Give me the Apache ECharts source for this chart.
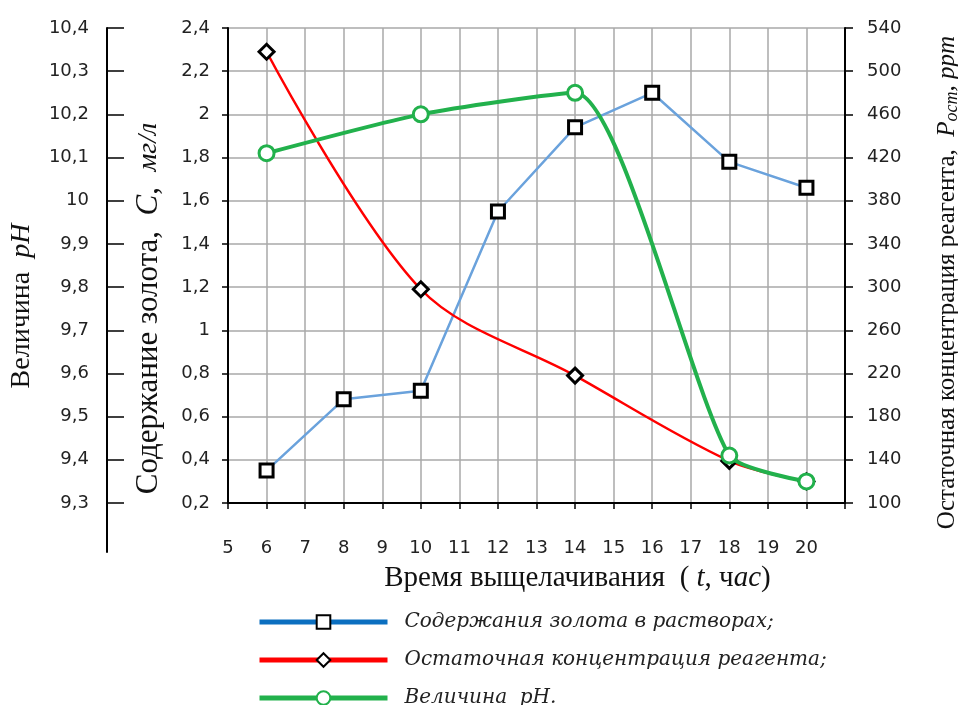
<!DOCTYPE html>
<html>
<head>
<meta charset="utf-8">
<script src="https://cdn.jsdelivr.net/npm/echarts@6/dist/echarts.min.js"></script>
<style>html,body{margin:0;padding:0;background:#fff}#c{width:958px;height:705px}</style>
</head>
<body>
<div id="c"></div>
<script>
// ---- data ----
const timeGold = [6, 8, 10, 12, 14, 16, 18, 20];
const gold = [0.35, 0.68, 0.72, 1.55, 1.94, 2.10, 1.78, 1.66];
const timeReagent = [6, 10, 14, 18, 20];
const reagent = [518, 298, 218, 139, 120];
const timePH = [6, 10, 14, 18, 20];
const ph = [10.11, 10.20, 10.25, 9.41, 9.35];
const xTicks = [5, 6, 7, 8, 9, 10, 11, 12, 13, 14, 15, 16, 17, 18, 19, 20];
const goldTicks = [0.2, 0.4, 0.6, 0.8, 1, 1.2, 1.4, 1.6, 1.8, 2, 2.2, 2.4];
const reagentTicks = [100, 140, 180, 220, 260, 300, 340, 380, 420, 460, 500, 540];
const phTicks = [9.3, 9.4, 9.5, 9.6, 9.7, 9.8, 9.9, 10, 10.1, 10.2, 10.3, 10.4];
const seriesNames = ['Содержания золота в растворах;', 'Остаточная концентрация реагента;', 'Величина  pH.'];

// ---- layout ----
const G = {left: 228, top: 28, right: 845, bottom: 503};
const phBottom = 552;
const h1 = G.bottom - G.top, h2 = phBottom - G.top;
const phMax = phTicks[phTicks.length - 1], phMinMain = phTicks[0];
const phMin = phMax - (phMax - phMinMain) * h2 / h1;

const comma = v => String(Math.round(v * 100) / 100).replace('.', ',');
const lbl = {fontFamily: 'DejaVu Sans', fontSize: 18, color: '#222'};
const nameFont = 'Liberation Serif';
const gridColor = '#a8a8a8';
const rich = size => ({
  n: {fontFamily: nameFont, fontSize: size, color: '#111'},
  i: {fontFamily: nameFont, fontSize: size, fontStyle: 'italic', color: '#111'},
  s: {fontFamily: nameFont, fontSize: size - 3, fontStyle: 'italic', color: '#111'},
  sub: {fontFamily: nameFont, fontSize: size - 7, fontStyle: 'italic', color: '#111', padding: [10, 0, 0, 0]}
});

const chart = echarts.init(document.getElementById('c'), null, {renderer: 'canvas'});
chart.setOption({
  backgroundColor: '#fff',
  animation: false,
  grid: [
    {left: G.left, top: G.top, width: G.right - G.left, height: h1, containLabel: false, outerBoundsMode: 'none'},
    {left: G.left, top: G.top, width: G.right - G.left, height: h2, containLabel: false, outerBoundsMode: 'none'}
  ],
  xAxis: [
    {
      type: 'value', gridIndex: 0, min: xTicks[0], max: 21, interval: 1,
      axisLine: {lineStyle: {color: '#000', width: 2}},
      axisTick: {show: true, length: 6, lineStyle: {color: '#000', width: 1.5}},
      axisLabel: Object.assign({margin: 36, formatter: v => (xTicks.indexOf(v) >= 0 ? String(v) : '')}, lbl),
      splitLine: {show: true, lineStyle: {color: gridColor, width: 1.5}},
      name: '{n|Время выщелачивания  ( }{i|t}{n|, ч}{i|ас}{n|)}',
      nameLocation: 'middle', nameGap: 61,
      nameTextStyle: {padding: [0, 0, 0, 82], rich: rich(29)}
    },
    {type: 'value', gridIndex: 1, min: xTicks[0], max: 21, show: false}
  ],
  yAxis: [
    {
      type: 'value', gridIndex: 0, position: 'left', min: goldTicks[0], max: goldTicks[goldTicks.length - 1], interval: 0.2,
      axisLine: {show: true, lineStyle: {color: '#000', width: 2}},
      axisTick: {show: true, length: 6, lineStyle: {color: '#000', width: 1.5}},
      axisLabel: Object.assign({margin: 18, formatter: comma}, lbl),
      splitLine: {show: true, lineStyle: {color: gridColor, width: 1.5}},
      name: '{n|Содержание золота,  }{i|C}{n|,  }{s|мг/л}',
      nameLocation: 'middle', nameGap: 64,
      nameTextStyle: {padding: [0, 86, 0, 0], rich: rich(31)}
    },
    {
      type: 'value', gridIndex: 0, position: 'right', min: reagentTicks[0], max: reagentTicks[reagentTicks.length - 1],
      axisLine: {show: true, lineStyle: {color: '#000', width: 2}},
      axisTick: {show: true, length: 8, customValues: reagentTicks, lineStyle: {color: '#000', width: 1.5}},
      axisLabel: Object.assign({margin: 22, customValues: reagentTicks}, lbl),
      splitLine: {show: false},
      name: '{n|Остаточная концентрация реагента,  }{i|P}{sub|ост}{i|, ppm}',
      nameLocation: 'middle', nameGap: 88,
      nameTextStyle: {padding: [0, 34, 0, 0], rich: rich(25)}
    },
    {
      type: 'value', gridIndex: 1, position: 'left', offset: G.left - 107, min: phMin, max: phMax,
      axisLine: {show: true, lineStyle: {color: '#000', width: 2}},
      axisTick: {show: true, inside: true, length: 17, customValues: phTicks, lineStyle: {color: '#000', width: 1.5}},
      axisLabel: Object.assign({margin: 18, customValues: phTicks, formatter: comma}, lbl),
      splitLine: {show: false},
      name: '{n|Величина  }{i|pH}',
      nameLocation: 'middle', nameGap: 71,
      nameTextStyle: {padding: [0, 32, 0, 0], rich: rich(28)}
    }
  ],
  legend: {
    orient: 'vertical', left: 257, top: 612, height: 120, padding: 0,
    itemWidth: 128, itemHeight: 17, itemGap: 18,
    textStyle: {fontFamily: 'DejaVu Serif', fontStyle: 'italic', fontSize: 20, color: '#222', padding: [0, 0, 0, 12]},
    data: [
      {name: seriesNames[0], lineStyle: {color: '#0b6fc0', width: 5}},
      {name: seriesNames[1], lineStyle: {color: '#ff0000', width: 5}},
      {name: seriesNames[2], lineStyle: {color: '#22b14c', width: 5}}
    ]
  },
  series: [
    {
      name: seriesNames[0], type: 'line', xAxisIndex: 0, yAxisIndex: 0,
      data: timeGold.map((t, i) => [t, gold[i]]),
      lineStyle: {color: '#6aa2dc', width: 2.5},
      symbol: 'rect', symbolSize: 13,
      itemStyle: {color: '#ffffff', borderColor: '#000', borderWidth: 3},
      z: 3
    },
    {
      name: seriesNames[1], type: 'line', xAxisIndex: 0, yAxisIndex: 1, smooth: 0.33,
      data: timeReagent.map((t, i) => [t, reagent[i]]),
      lineStyle: {color: '#ff0000', width: 2.5},
      symbol: 'diamond', symbolSize: 15,
      itemStyle: {color: '#ffffff', borderColor: '#000', borderWidth: 3},
      z: 4
    },
    {
      name: seriesNames[2], type: 'line', xAxisIndex: 1, yAxisIndex: 2, smooth: 0.2,
      data: timePH.map((t, i) => [t, ph[i]]),
      lineStyle: {color: '#22b14c', width: 4},
      symbol: 'circle', symbolSize: 15,
      itemStyle: {color: '#ffffff', borderColor: '#22b14c', borderWidth: 3},
      z: 5
    }
  ]
});
</script>
</body>
</html>
